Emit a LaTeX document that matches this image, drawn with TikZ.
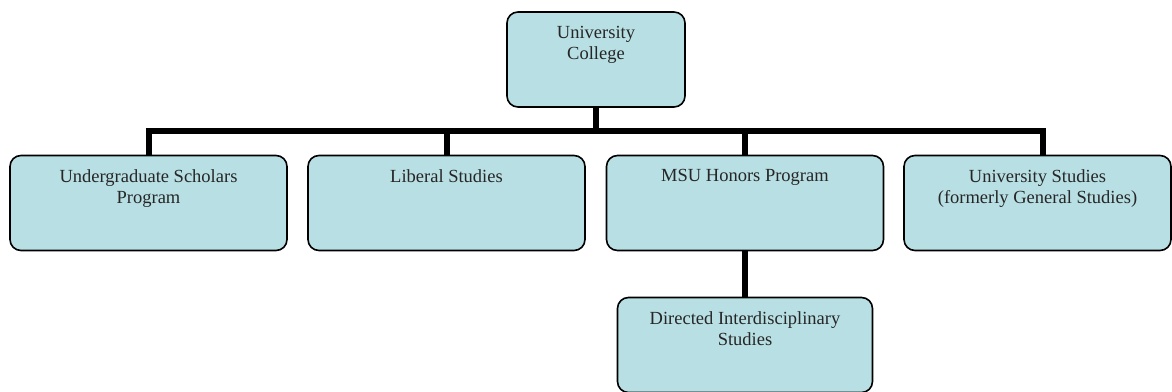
\documentclass[tikz,border=0pt]{standalone}
\usepackage{fontspec}
\setmainfont{Liberation Serif}
\usepackage{xcolor}
\definecolor{unitfill}{RGB}{184,223,227}
\tikzset{
	unit/.style={draw=black, line width=1.6pt, rounded corners=11pt, fill=unitfill, minimum height=95pt, inner sep=0pt},
	unittext/.style={anchor=north, align=center, inner sep=0pt, font=\fontsize{18.5}{21.5}\selectfont, text=black!85},
	bar/.style={line width=6pt}
}

\begin{document}
\begin{tikzpicture}[x=1pt, y=-1pt]
		\useasboundingbox (0,0) rectangle (1172,391);
		% boxes
		\node[unit, minimum width=178pt] (uc) at (596,59.5) {};
		\node[unit, minimum width=277pt] (usp) at (148.5,203) {};
		\node[unit, minimum width=277pt] (ls) at (446.5,203) {};
		\node[unit, minimum width=277pt] (hon) at (745,203) {};
		\node[unit, minimum width=267pt] (us) at (1037.5,203) {};
		\node[unit, minimum width=255pt] (dis) at (745,345) {};
		% texts
		\node[unittext] (uct) at ([yshift=-14.5pt]uc.north) {University\\College};
		\node[unittext] (uspt) at ([yshift=-14.5pt]usp.north) {Undergraduate Scholars\\Program};
		\node[unittext] (lst) at ([yshift=-14.5pt]ls.north) {Liberal Studies};
		\node[unittext] (hont) at ([yshift=-14.5pt]hon.north) {MSU Honors Program};
		\node[unittext] (ust) at ([yshift=-14.5pt]us.north) {University Studies\\(formerly General Studies)};
		\node[unittext] (dist) at ([yshift=-14.5pt]dis.north) {Directed Interdisciplinary\\Studies};
		% connectors
		\coordinate (bus) at (596,131);
		\draw[bar] (uc.south) -- (bus);
		\draw[bar] ([xshift=-3pt]usp.north |- bus) -- ([xshift=3pt]1043,131);
		\draw[bar] (usp.north) -- (usp.north |- bus);
		\draw[bar] (ls.north) -- (ls.north |- bus);
		\draw[bar] (hon.north) -- (hon.north |- bus);
		\draw[bar] ([xshift=5.5pt]us.north) -- ([xshift=5.5pt]us.north |- bus);
		\draw[bar] (hon.south) -- (dis.north);
	\end{tikzpicture}
\end{document}
